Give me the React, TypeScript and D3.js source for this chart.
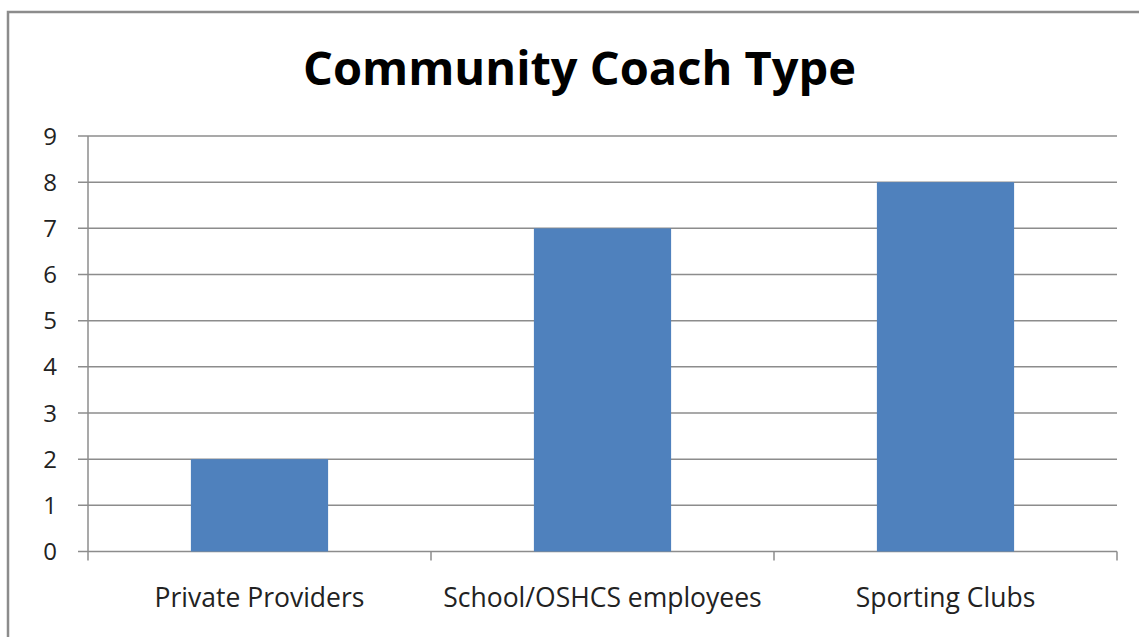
import React from "react";
import * as d3 from "d3";

const categories = ["Private Providers", "School/OSHCS employees", "Sporting Clubs"];
const values = [2, 7, 8];
const yTicks = [0, 1, 2, 3, 4, 5, 6, 7, 8, 9];
const title = "Community Coach Type";

export default function App() {
  const W = 1139, H = 637;
  const left = 88, right = 1117, top = 136, bottom = 551.5;
  const x = d3.scaleBand<string>().domain(categories).range([left, right]).paddingInner(0.6).paddingOuter(0.3);
  const xb = d3.scaleBand<string>().domain(categories).range([left, right]);
  const y = d3.scaleLinear().domain([0, 9]).range([bottom, top]);
  const grid = "#8c8c8c";
  const font = "'Open Sans', Lato, sans-serif";
  return (
    <svg width={W} height={H} style={{ position: "absolute", left: 0, top: 0, background: "#fff" }}>
      <rect x={8} y={12} width={W + 10} height={H + 10} fill="#fff" stroke="#8c8c8c" strokeWidth={2.5} />
      <text x={579.5} y={85} textAnchor="middle" fontFamily={font} fontWeight={700} fontSize={47} fill="#000">{title}</text>
      {yTicks.map((t) => (
        <g key={t}>
          <line x1={left - 10} x2={right} y1={y(t)} y2={y(t)} stroke={grid} strokeWidth={1.5} />
          <text x={57} y={y(t)} dy="0.36em" textAnchor="end" fontFamily={font} fontSize={24} fill="#222">{t}</text>
        </g>
      ))}
      <line x1={left} x2={left} y1={top} y2={bottom} stroke={grid} strokeWidth={1.5} />
      {[...categories.map((c) => xb(c) as number), right].map((v, i) => (
        <line key={i} x1={v} x2={v} y1={bottom} y2={bottom + 9} stroke={grid} strokeWidth={1.5} />
      ))}
      {categories.map((c, i) => (
        <rect key={c} x={x(c)} y={y(values[i])} width={x.bandwidth()} height={y(0) - y(values[i])} fill="#4f81bd" />
      ))}
      {categories.map((c) => (
        <text key={c} x={(xb(c) as number) + xb.bandwidth() / 2} y={607} textAnchor="middle" fontFamily={font} fontSize={26.5} fill="#222">{c}</text>
      ))}
    </svg>
  );
}
